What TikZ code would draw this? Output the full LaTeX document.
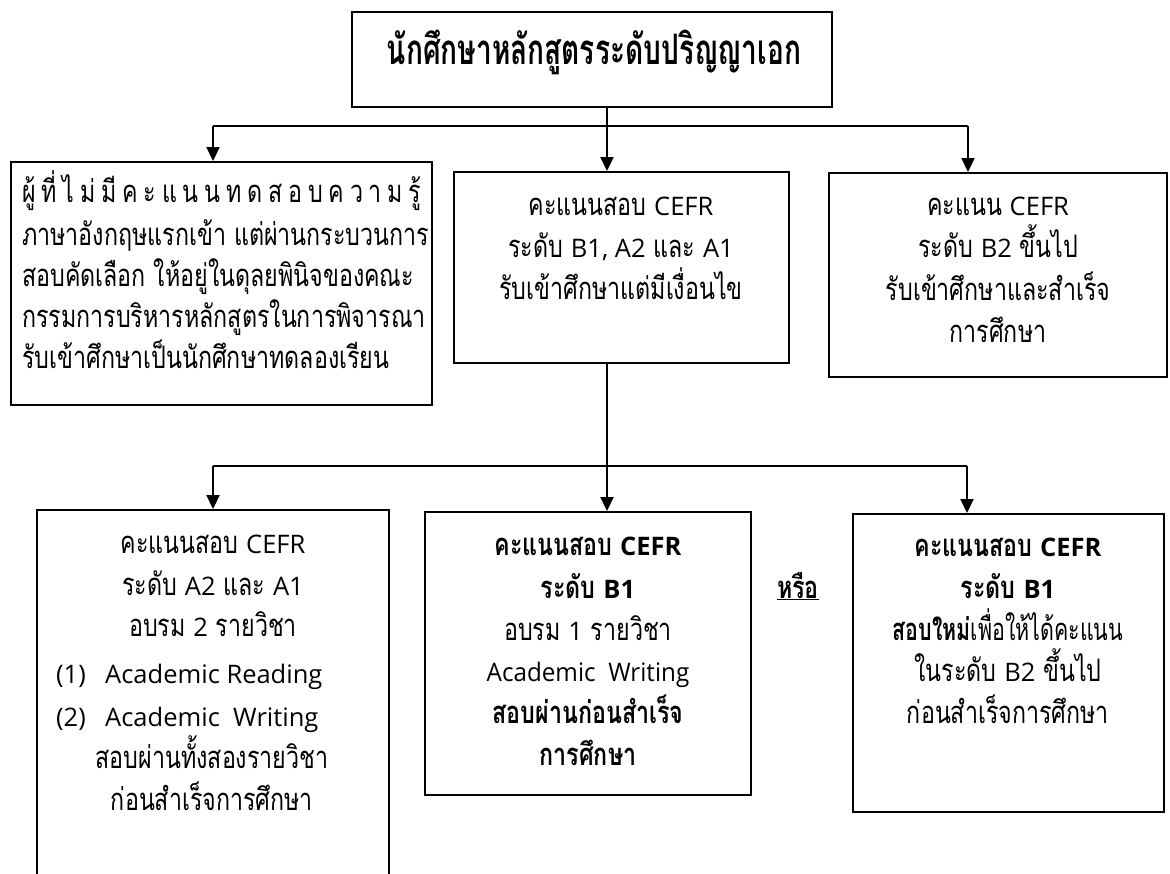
\documentclass[tikz,border=0pt]{standalone}
\usepackage{fontspec}
\setmainfont[Script=Thai, FakeStretch=0.75]{Loma}
\newfontfamily\titlef[Script=Thai, FakeStretch=0.668]{Loma}
\newfontfamily\latf{Open Sans}
\usetikzlibrary{arrows.meta}
\def\gs{\hspace{5.8pt}}
\newcommand{\latw}[1]{{\latf\fontsize{25.5}{30}\selectfont #1}}
\tikzset{
  box/.style={draw, line width=1.9pt, inner sep=0pt},
  conn/.style={line width=1.9pt},
  arr/.style={line width=1.9pt, -{Triangle[length=14pt,width=13pt]}},
  ln/.style={inner sep=0pt, text height=22pt, text depth=6pt, font=\fontsize{31}{34}\selectfont},
  lnb/.style={ln, font=\fontsize{31}{34}\selectfont\bfseries},
}
\begin{document}
\begin{tikzpicture}[x=1pt,y=-1pt]
\clip (0,0) rectangle (1170,874);
\fill[white] (0,0) rectangle (1170,874);
% boxes
\node[box, minimum width=480pt, minimum height=95pt] (T) at (592,59.5) {};
\node[box, minimum width=421pt, minimum height=243pt] (L) at (221.5,283.5) {};
\node[box, minimum width=335pt, minimum height=191pt] (M) at (621.5,267.5) {};
\node[box, minimum width=338pt, minimum height=204pt] (R) at (998,275) {};
\node[box, minimum width=352pt, minimum height=400pt] (BL) at (213,710) {};
\node[box, minimum width=326pt, minimum height=283pt] (BM) at (588,653.5) {};
\node[box, minimum width=311pt, minimum height=298pt] (BR) at (1008.5,663) {};
% connectors
\coordinate (h1l) at (213,126);
\coordinate (h1m) at (607,126);
\coordinate (h1r) at (968,126);
\draw[conn] (T.south -| h1m) -- (h1m);
\draw[conn] (h1l) -- (h1r);
\draw[arr] (h1l) -- (h1l |- L.north);
\draw[arr] (h1m) -- (h1m |- M.north);
\draw[arr] (h1r) -- (h1r |- R.north);
\coordinate (h2l) at (213,466);
\coordinate (h2m) at (607,466);
\coordinate (h2r) at (967,466);
\draw[arr] (M.south -| h2m) -- (h2m |- BM.north);
\draw[conn] (h2l) -- (h2r);
\draw[arr] (h2l) -- (h2l |- BL.north);
\draw[arr] (h2r) -- (h2r |- BR.north);
% title
\node[inner sep=0pt, text height=28pt, text depth=8pt, font=\titlef\fontsize{42}{46}\selectfont\bfseries] (tt) at (594,55) {นักศึกษาหลักสูตรระดับปริญญาเอก};
% left box
\node[ln, anchor=west] (l1) at (22,195) {ผู้\gs ที่\gs ไ\gs ม่\gs มี\gs ค\gs ะ\gs แ\gs น\gs น\gs ท\gs ด\gs ส\gs อ\gs บ\gs ค\gs ว\gs า\gs ม\gs รู้};
\node[ln, anchor=west] (l2) at (22,238) {ภาษาอังกฤษแรกเข้า แต่ผ่านกระบวนการ};
\node[ln, anchor=west] (l3) at (22,279) {สอบคัดเลือก ให้อยู่ในดุลยพินิจของคณะ};
\node[ln, anchor=west] (l4) at (22,320) {กรรมการบริหารหลักสูตรในการพิจารณา};
\node[ln, anchor=west] (l5) at (22,361) {รับเข้าศึกษาเป็นนักศึกษาทดลองเรียน};
% middle box
\node[ln] (m1) at (621,208) {คะแนนสอบ \latw{CEFR}};
\node[ln] (m2) at (621,250) {ระดับ \latw{B1, A2} และ \latw{A1}};
\node[ln] (m3) at (621,292) {รับเข้าศึกษาแต่มีเงื่อนไข};
% right box
\node[ln] (r1) at (998,208) {คะแนน \latw{CEFR}};
\node[ln] (r2) at (998,250) {ระดับ \latw{B2} ขึ้นไป};
\node[ln] (r3) at (998,293) {รับเข้าศึกษาและสำเร็จ};
\node[ln] (r4) at (998,335) {การศึกษา};
% bottom left
\node[ln] (bl1) at (213,545) {คะแนนสอบ \latw{CEFR}};
\node[ln] (bl2) at (213,587) {ระดับ \latw{A2} และ \latw{A1}};
\node[ln] (bl3) at (213,628) {อบรม \latw{2} รายวิชา};
\node[ln, anchor=west] (bl4a) at (56,675) {\latw{(1)}};
\node[ln, anchor=west] (bl4b) at (105,675) {\latw{Academic Reading}};
\node[ln, anchor=west] (bl5a) at (56,718) {\latw{(2)}};
\node[ln, anchor=west] (bl5b) at (105,718) {\latw{Academic\ \ Writing}};
\node[ln] (bl6) at (212,760) {สอบผ่านทั้งสองรายวิชา};
\node[ln] (bl7) at (212,802) {ก่อนสำเร็จการศึกษา};
% bottom middle
\node[lnb] (bm1) at (588,547) {คะแนนสอบ \latw{\bfseries CEFR}};
\node[lnb] (bm2) at (588,590) {ระดับ \latw{\bfseries B1}};
\node[ln] (bm3) at (588,632) {อบรม \latw{1} รายวิชา};
\node[ln] (bm4) at (588,673) {\scalebox{0.95}[1]{\latw{Academic\ \ Writing}}};
\node[lnb] (bm5) at (588,715) {สอบผ่านก่อนสำเร็จ};
\node[lnb] (bm6) at (588,757) {การศึกษา};
% or
\node[lnb] (or) at (798,590) {\underline{หรือ}};
% bottom right
\node[lnb] (br1) at (1008,548) {คะแนนสอบ \latw{\bfseries CEFR}};
\node[lnb] (br2) at (1008,590) {ระดับ \latw{\bfseries B1}};
\node[ln] (br3) at (1008,632) {\scalebox{0.92}[1]{\textbf{สอบใหม่}เพื่อให้ได้คะแนน}};
\node[ln] (br4) at (1008,673) {ในระดับ \latw{B2} ขึ้นไป};
\node[ln] (br5) at (1008,715) {ก่อนสำเร็จการศึกษา};
\end{tikzpicture}
\end{document}
